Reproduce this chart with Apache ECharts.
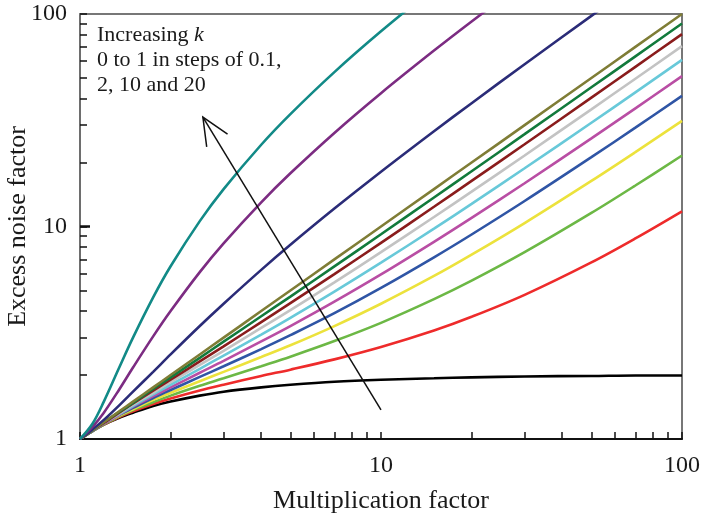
<!DOCTYPE html>
<html>
<head>
<meta charset="utf-8">
<script src="https://cdn.jsdelivr.net/npm/echarts@6/dist/echarts.min.js"></script>
<style>
html,body{margin:0;padding:0;background:#fff;}
#chart{width:701px;height:515px;}
</style>
</head>
<body>
<div id="chart"></div>
<script>
// Multiplication factor (x) sample points
const multiplication = [1, 1.1, 1.2, 1.35, 1.5, 1.75, 2, 2.5, 3, 4, 5, 7, 10, 15, 20, 30, 50, 70, 100];

// Excess noise factor, one list per curve
const k00 = [1, 1.09, 1.17, 1.26, 1.33, 1.43, 1.5, 1.6, 1.67, 1.75, 1.8, 1.86, 1.9, 1.93, 1.95, 1.97, 1.98, 1.99, 1.99];
const k01 = [1, 1.09, 1.17, 1.27, 1.35, 1.46, 1.55, 1.69, 1.8, 1.98, 2.12, 2.37, 2.71, 3.24, 3.76, 4.77, 6.78, 8.79, 11.79];
const k02 = [1, 1.09, 1.17, 1.28, 1.37, 1.49, 1.6, 1.78, 1.93, 2.2, 2.44, 2.89, 3.52, 4.55, 5.56, 7.57, 11.58, 15.59, 21.59];
const k03 = [1, 1.09, 1.18, 1.29, 1.38, 1.53, 1.65, 1.87, 2.07, 2.43, 2.76, 3.4, 4.33, 5.85, 7.37, 10.38, 16.39, 22.39, 31.39];
const k04 = [1, 1.09, 1.18, 1.3, 1.4, 1.56, 1.7, 1.96, 2.2, 2.65, 3.08, 3.91, 5.14, 7.16, 9.17, 13.18, 21.19, 29.19, 41.19];
const k05 = [1, 1.1, 1.18, 1.3, 1.42, 1.59, 1.75, 2.05, 2.33, 2.88, 3.4, 4.43, 5.95, 8.47, 10.98, 15.98, 25.99, 35.99, 51.0];
const k06 = [1, 1.1, 1.19, 1.31, 1.43, 1.62, 1.8, 2.14, 2.47, 3.1, 3.72, 4.94, 6.76, 9.77, 12.78, 18.79, 30.79, 42.79, 60.8];
const k07 = [1, 1.1, 1.19, 1.32, 1.45, 1.65, 1.85, 2.23, 2.6, 3.33, 4.04, 5.46, 7.57, 11.08, 14.59, 21.59, 35.59, 49.6, 70.6];
const k08 = [1, 1.1, 1.19, 1.33, 1.47, 1.69, 1.9, 2.32, 2.73, 3.55, 4.36, 5.97, 8.38, 12.39, 16.39, 24.39, 40.4, 56.4, 80.4];
const k09 = [1, 1.1, 1.2, 1.34, 1.48, 1.72, 1.95, 2.41, 2.87, 3.78, 4.68, 6.49, 9.19, 13.69, 18.2, 27.2, 45.2, 63.2, 90.2];
const k10 = [1, 1.1, 1.2, 1.35, 1.5, 1.75, 2, 2.5, 3, 4, 5, 7, 10, 15, 20, 30, 50, 70, 100];
const kA = [1, 1.11, 1.23, 1.44, 1.67, 2.07, 2.5, 3.4, 4.33, 6.25, 8.2, 12.14, 18.1, 28.07, 38.05, 58.03, 98.02, 138.0];
const kB = [1, 1.14, 1.33, 1.71, 2.17, 3.04, 4.0, 6.1, 8.33, 13.0, 17.8, 27.57, 42.4, 67.27, 92.2, 142.1];
const kC = [1, 1.18, 1.5, 2.17, 3.0, 4.64, 6.5, 10.6, 15.0, 24.25, 33.8, 53.29, 82.9, 132.6];

const curveNames = ['k = 0', 'k = 0.1', 'k = 0.2', 'k = 0.3', 'k = 0.4', 'k = 0.5', 'k = 0.6', 'k = 0.7', 'k = 0.8', 'k = 0.9', 'k = 1', 'k = 2', 'k = 10', 'k = 20'];
const curveValues = [k00, k01, k02, k03, k04, k05, k06, k07, k08, k09, k10, kA, kB, kC];
const curveColors = ['#000000', '#ee2b2b', '#6cb845', '#ece23c', '#2f55a5', '#b94ea4', '#68c9d9', '#c3c3c3', '#8a1c1c', '#127a3c', '#7f7d36', '#2b2c78', '#7c2c82', '#128a87'];

const axisTicks = [1, 2, 3, 4, 5, 6, 7, 8, 9, 10, 20, 30, 40, 50, 60, 70, 80, 90, 100];
const axisLabels = [1, 10, 100];

const FONT = '"Liberation Serif", "DejaVu Serif", serif';

const chart = echarts.init(document.getElementById('chart'), null, {renderer: 'canvas'});

const series = curveValues.map((vals, i) => ({
  name: curveNames[i],
  type: 'line',
  data: vals.map((v, j) => [multiplication[j], v]),
  showSymbol: false,
  symbol: 'none',
  clip: true,
  smooth: 0.35,
  lineStyle: {color: curveColors[i], width: 2.6},
  itemStyle: {color: curveColors[i]},
  z: 2,
  silent: true,
  animation: false
}));

function logAxis(extra) {
  return Object.assign({
    type: 'log',
    logBase: 10,
    min: 1,
    max: 100,
    splitLine: {show: false},
    minorTick: {show: false},
    minorSplitLine: {show: false}
  }, extra);
}

const option = {
  animation: false,
  backgroundColor: '#ffffff',
  grid: {left: 80, right: 19, top: 14, bottom: 76, containLabel: false, outerBoundsMode: 'none'},
  xAxis: [
    logAxis({
      position: 'bottom',
      name: 'Multiplication factor',
      nameLocation: 'middle',
      nameGap: 49,
      nameMoveOverlap: false,
      nameTextStyle: {fontFamily: FONT, fontSize: 26, color: '#1a1a1a'},
      axisLine: {show: true, lineStyle: {color: '#111', width: 2}},
      axisTick: {show: true, inside: true, length: 7, customValues: axisTicks, lineStyle: {color: '#111', width: 1.5}},
      axisLabel: {show: true, customValues: axisLabels, margin: 15, fontFamily: FONT, fontSize: 24, color: '#1a1a1a'}
    }),
    logAxis({
      position: 'top',
      axisLine: {show: true, lineStyle: {color: '#777', width: 2}},
      axisTick: {show: false},
      axisLabel: {show: false}
    })
  ],
  yAxis: [
    logAxis({
      position: 'left',
      name: 'Excess noise factor',
      nameLocation: 'middle',
      nameGap: 49,
      nameMoveOverlap: false,
      nameTextStyle: {fontFamily: FONT, fontSize: 26, color: '#1a1a1a'},
      axisLine: {show: true, lineStyle: {color: '#6e6e6e', width: 2}},
      axisTick: {show: true, inside: true, length: 7, customValues: axisTicks, lineStyle: {color: '#111', width: 1.5}},
      axisLabel: {show: true, customValues: axisLabels, margin: 13, fontFamily: FONT, fontSize: 24, color: '#1a1a1a'}
    }),
    logAxis({
      position: 'right',
      axisLine: {show: true, lineStyle: {color: '#777', width: 2}},
      axisTick: {show: false},
      axisLabel: {show: false}
    }),
    logAxis({
      position: 'left',
      axisLine: {show: false},
      axisTick: {show: true, inside: true, length: 10, customValues: [10], lineStyle: {color: '#111', width: 2.5}},
      axisLabel: {show: false}
    })
  ],
  series: series
};

chart.setOption(option);

// Annotation arrow (data coordinates of tail and tip)
const arrowTail = [10.0, 1.37];
const arrowTip = [2.56, 32.7];
const pTail = chart.convertToPixel({xAxisIndex: 0, yAxisIndex: 0}, arrowTail);
const pTip = chart.convertToPixel({xAxisIndex: 0, yAxisIndex: 0}, arrowTip);
const dx = pTail[0] - pTip[0], dy = pTail[1] - pTip[1];
const len = Math.sqrt(dx * dx + dy * dy);
const ux = dx / len, uy = dy / len;
const headLen = 30, ang = 24 * Math.PI / 180;
function rot(x, y, a) { return [x * Math.cos(a) - y * Math.sin(a), x * Math.sin(a) + y * Math.cos(a)]; }
const h1 = rot(ux, uy, ang), h2 = rot(ux, uy, -ang);

chart.setOption({
  graphic: [
    {type: 'line', z: 10, shape: {x1: pTail[0], y1: pTail[1], x2: pTip[0], y2: pTip[1]}, style: {stroke: '#111', lineWidth: 1.5}},
    {type: 'polyline', z: 10, shape: {points: [[pTip[0] + h1[0] * headLen, pTip[1] + h1[1] * headLen], [pTip[0], pTip[1]], [pTip[0] + h2[0] * headLen, pTip[1] + h2[1] * headLen]]}, style: {stroke: '#111', lineWidth: 1.5, fill: null}},
    {type: 'text', z: 10, left: 97, top: 24, style: {
      text: '{a|Increasing }{i|k}\n{a|0 to 1 in steps of 0.1,}\n{a|2, 10 and 20}',
      rich: {
        a: {fontFamily: FONT, fontSize: 22, lineHeight: 25, fill: '#1a1a1a'},
        i: {fontFamily: FONT, fontSize: 22, fontStyle: 'italic', lineHeight: 25, fill: '#1a1a1a'}
      }
    }}
  ]
});
</script>
</body>
</html>
